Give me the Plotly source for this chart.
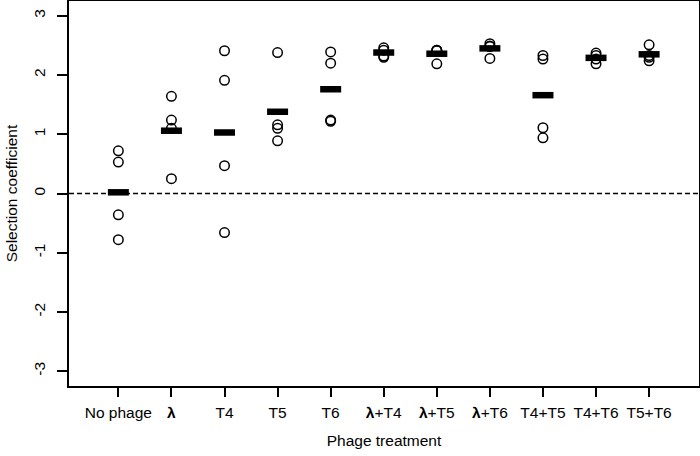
import plotly.graph_objects as go

# Selection coefficient per phage treatment (4 replicates each) + mean bars
treatments = ["No phage", "<b>λ</b>", "T4", "T5", "T6", "<b>λ</b>+T4", "<b>λ</b>+T5",
              "<b>λ</b>+T6", "T4+T5", "T4+T6", "T5+T6"]

replicates = [
    [0.72, 0.53, -0.36, -0.78],   # No phage
    [1.64, 1.24, 1.10, 0.25],     # lambda
    [2.41, 1.91, 0.47, -0.66],    # T4
    [2.38, 1.16, 1.10, 0.89],     # T5
    [2.39, 2.20, 1.24, 1.22],     # T6
    [2.46, 2.42, 2.32, 2.30],     # lambda+T4
    [2.42, 2.41, 2.42, 2.19],     # lambda+T5
    [2.53, 2.49, 2.48, 2.28],     # lambda+T6
    [2.33, 2.27, 1.11, 0.94],     # T4+T5
    [2.37, 2.33, 2.27, 2.19],     # T4+T6
    [2.51, 2.33, 2.30, 2.24],     # T5+T6
]

means = [0.02, 1.06, 1.03, 1.38, 1.76, 2.38, 2.36, 2.45, 1.66, 2.29, 2.35]

y_ticks = [-3, -2, -1, 0, 1, 2, 3]

font_family = "Liberation Sans, Arial, sans-serif"

# flatten points for scatter
pt_x = []
pt_y = []
for i, vals in enumerate(replicates):
    for v in vals:
        pt_x.append(i)
        pt_y.append(v)

fig = go.Figure()

# dashed line at zero
fig.add_shape(type="line", xref="paper", x0=0, x1=1, yref="y", y0=0, y1=0,
              line=dict(color="black", width=1.5, dash="5px,3px"))

fig.add_trace(go.Scatter(
    x=pt_x, y=pt_y, mode="markers",
    marker=dict(symbol="circle-open", size=9.5, color="black", line=dict(width=1.5)),
    showlegend=False, hoverinfo="y"
))

fig.add_trace(go.Scatter(
    x=list(range(len(means))), y=means, mode="markers",
    marker=dict(symbol="line-ew", size=15, color="black", line=dict(width=6.5, color="black")),
    showlegend=False, hoverinfo="y"
))

fig.update_layout(
    width=700, height=456,
    margin=dict(l=69, r=1, t=1, b=70),
    plot_bgcolor="white", paper_bgcolor="white",
    font=dict(family=font_family, size=15.5, color="black"),
    xaxis=dict(
        range=[-0.93, 10.94],
        tickmode="array",
        tickvals=list(range(len(treatments))),
        ticktext=treatments,
        ticks="outside", ticklen=9, tickwidth=1.5, tickcolor="black",
        showline=True, linewidth=1.5, linecolor="black", mirror=True,
        showgrid=False, zeroline=False, automargin=False,
        ticklabelstandoff=3,
        tickfont=dict(size=15.5),
        title=dict(text="Phage treatment", standoff=15, font=dict(size=15.5)),
    ),
    yaxis=dict(
        range=[-3.25, 3.25],
        tickmode="array",
        tickvals=y_ticks,
        ticktext=[str(t) for t in y_ticks],
        tickangle=-90,
        ticks="outside", ticklen=10, tickwidth=1.5, tickcolor="black",
        showline=True, linewidth=1.5, linecolor="black", mirror=True,
        showgrid=False, zeroline=False, automargin=False,
        ticklabelstandoff=6,
        tickfont=dict(size=15.5),
        title=dict(text="Selection coefficient", standoff=10, font=dict(size=15.5)),
    ),
)

# drop the page's default body margin so the plot sits at the window origin
fig.write_html("out.html", config={"displayModeBar": False},
               post_script="document.body.style.margin='0';")
